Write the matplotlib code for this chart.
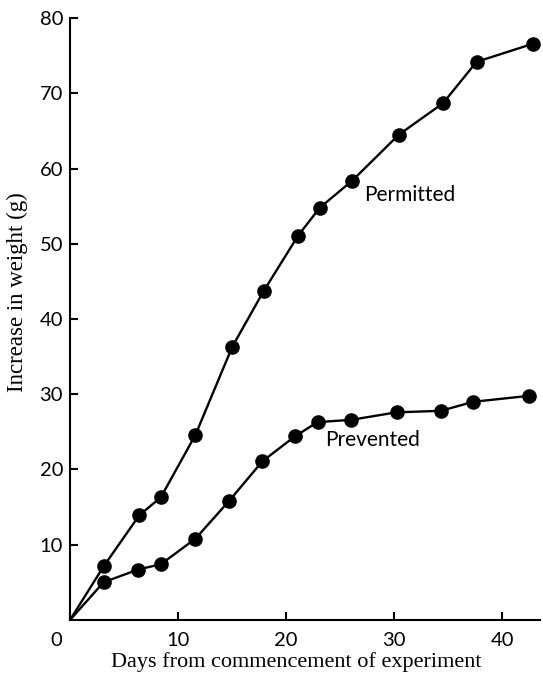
import matplotlib.pyplot as plt
import matplotlib.transforms as mtransforms

# Increase in weight over time, permitted vs prevented
days_permitted = [0, 3.1, 6.4, 8.4, 11.6, 15.0, 17.9, 21.1, 23.1, 26.1, 30.4, 34.5, 37.6, 42.8]
weight_permitted = [0, 7.1, 13.9, 16.3, 24.6, 36.3, 43.7, 51.1, 54.8, 58.4, 64.5, 68.7, 74.2, 76.6]

days_prevented = [0, 3.1, 6.3, 8.4, 11.6, 14.7, 17.8, 20.8, 22.9, 26.0, 30.2, 34.3, 37.3, 42.5]
weight_prevented = [0, 5.0, 6.7, 7.4, 10.8, 15.8, 21.1, 24.4, 26.3, 26.6, 27.6, 27.8, 29.0, 29.8]

x_ticks = [0, 10, 20, 30, 40]
y_ticks = [10, 20, 30, 40, 50, 60, 70, 80]

fig = plt.figure(figsize=(5.43, 6.76), dpi=100)
ax = fig.add_axes([0.129, 0.083, 0.866, 0.890])

for xs, ys in [(days_permitted, weight_permitted), (days_prevented, weight_prevented)]:
    ax.plot(xs, ys, color='black', lw=1.7)
    ax.plot(xs[1:], ys[1:], 'o', color='black', ms=9.5)

ax.set_xlim(0, 43.5)
ax.set_ylim(0, 80)
ax.set_xticks(x_ticks)
ax.set_yticks(y_ticks)
ax.spines['top'].set_visible(False)
ax.spines['right'].set_visible(False)
for s in ['left', 'bottom']:
    ax.spines[s].set_linewidth(1.5)
ax.tick_params(direction='in', length=6, width=1.5)
ax.tick_params(axis='x', pad=9)
ax.tick_params(axis='y', pad=5)
for lab in ax.get_xticklabels() + ax.get_yticklabels():
    lab.set_fontfamily('Lato')
    lab.set_fontsize(14.5)

# the "0" sits left of the corner
lab0 = ax.get_xticklabels()[0]
lab0.set_transform(lab0.get_transform() + mtransforms.ScaledTranslation(-0.14, 0, fig.dpi_scale_trans))

ax.text(27.2, 56.5, 'Permitted', fontfamily='Lato', fontsize=15, va='center')
ax.text(23.6, 23.9, 'Prevented', fontfamily='Lato', fontsize=15, va='center')

ax.set_xlabel('Days from commencement of experiment', fontfamily='Liberation Serif', fontsize=16)
ax.set_ylabel('Increase in weight (g)', fontfamily='Liberation Serif', fontsize=16.5)
ax.xaxis.set_label_coords(0.481, -0.053)
ax.yaxis.set_label_coords(-0.089, 0.545)

fig.savefig('out.png', dpi=100)
